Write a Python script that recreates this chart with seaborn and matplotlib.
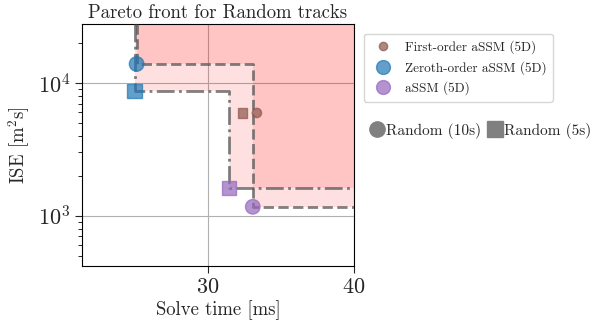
import numpy as np
import pandas as pd
import matplotlib
matplotlib.use("Agg")
import matplotlib.pyplot as plt
from matplotlib.lines import Line2D
from matplotlib.ticker import LogLocator, NullFormatter
import seaborn as sns

methods = ["First-order aSSM (5D)", "Zeroth-order aSSM (5D)", "aSSM (5D)"]
colors = ["tab:brown", "tab:blue", "tab:purple"]
time_10s = [33.36, 25.14, 33.08]
ise_10s = [5950, 13900, 1170]
time_5s = [32.4, 25.0, 31.44]
ise_5s = [5950, 8710, 1625]
datasets = ["Random (10s)", "Random (5s)"]

sns.set_style("ticks")
plt.rcParams["font.family"] = ["cmr10", "DejaVu Serif"]
plt.rcParams["mathtext.fontset"] = "cm"
plt.rcParams["axes.formatter.use_mathtext"] = True

fig = plt.figure(figsize=(5.98, 3.2), dpi=100)
ax = fig.add_axes([0.137, 0.169, 0.455, 0.756])

XMIN, XMAX = 21.4, 40.0
YMIN, YMAX = 420, 27800

df = pd.DataFrame({
    "method": methods * 2,
    "time": time_10s + time_5s,
    "ise": ise_10s + ise_5s,
    "dataset": [datasets[0]] * 3 + [datasets[1]] * 3,
})

def pareto(ts, es):
    pts = sorted(zip(ts, es))
    front = []
    best = np.inf
    for t, e in pts:
        if e < best:
            front.append((t, e))
            best = e
    return front

for ts, es, ls in [(time_10s, ise_10s, "--"), (time_5s, ise_5s, "-.")]:
    front = pareto(ts, es)
    fx = [p[0] for p in front]
    fy = [p[1] for p in front]
    lx = [fx[0]]
    ly = [YMAX]
    for x, y in front:
        lx += [x, x]
        ly += [ly[-1], y]
    lx = [fx[0]] + lx[1:] + [XMAX]
    ly = [YMAX] + ly[1:] + [fy[-1]]
    ax.plot(lx, ly, ls=ls, color="#555555", alpha=0.75, lw=2, zorder=3)
    ax.fill_between(fx + [XMAX], fy + [fy[-1]], YMAX, step="post",
                    color="red", alpha=0.12, lw=0, zorder=1)

sizes = {"First-order aSSM (5D)": 45, "Zeroth-order aSSM (5D)": 110, "aSSM (5D)": 110}
for m, c in zip(methods, colors):
    sub = df[df.method == m]
    sns.scatterplot(data=sub, x="time", y="ise", style="dataset",
                    markers={datasets[0]: "o", datasets[1]: "s"},
                    s=sizes[m], color=c, alpha=0.7, edgecolor=c, linewidth=1,
                    ax=ax, legend=False, zorder=4)

ax.set_yscale("log")
ax.set_xlim(XMIN, XMAX)
ax.set_ylim(YMIN, YMAX)
ax.set_xticks([30, 40])
ax.yaxis.set_minor_locator(LogLocator(base=10, subs=np.arange(2, 10)))
ax.yaxis.set_minor_formatter(NullFormatter())
ax.grid(True, which="major", color="#b0b0b0", lw=0.8)
ax.tick_params(labelsize=16, which="major", length=5, width=0.8)
ax.tick_params(axis="y", which="minor", length=3, width=0.7, left=True)
ax.set_xlabel("Solve time [ms]", fontsize=13.5, labelpad=2)
ax.set_ylabel("ISE [m$^2$s]", fontsize=13.5)
ax.set_title("Pareto front for Random tracks", fontsize=13.5, pad=4)
for sp in ax.spines.values():
    sp.set_color("black")

h1 = [Line2D([], [], marker="o", ls="", color=c, alpha=0.7,
             markersize=(6 if m.startswith("First") else 10)) for m, c in zip(methods, colors)]
leg1 = fig.legend(h1, methods, loc="upper left", bbox_to_anchor=(0.597, 0.915),
                  fontsize=9.5, frameon=True, handletextpad=0.6, borderpad=0.5)
leg1.get_frame().set_edgecolor("#cccccc")
h2 = [Line2D([], [], marker="o", ls="", color="gray", markersize=11),
      Line2D([], [], marker="s", ls="", color="gray", markersize=11)]
fig.legend(h2, datasets, loc="upper left", bbox_to_anchor=(0.592, 0.66), ncol=2,
           fontsize=11, frameon=False, handletextpad=0.0, columnspacing=0.3,
           handlelength=1.2)

fig.savefig("out.png", dpi=100)
